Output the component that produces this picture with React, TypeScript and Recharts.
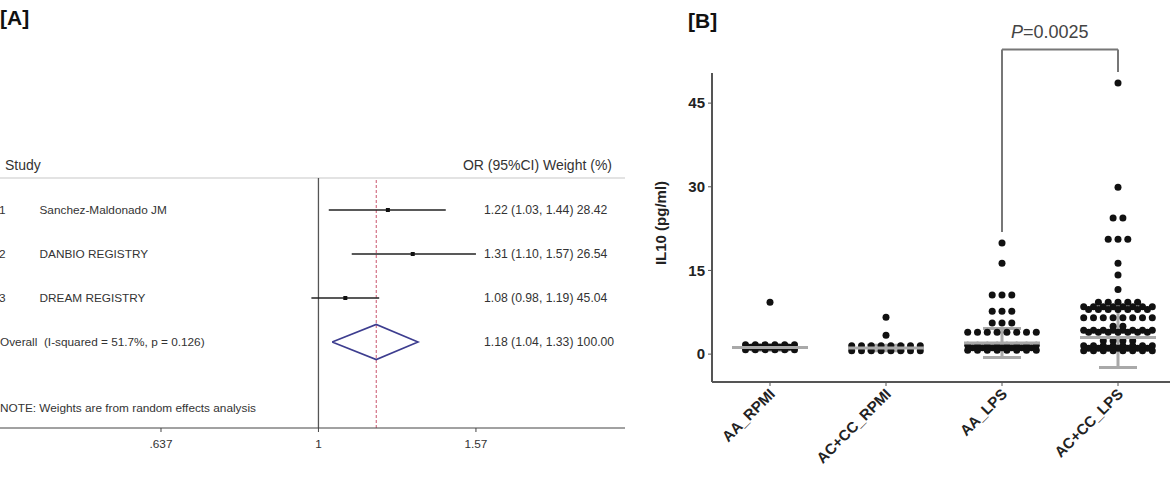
import { ErrorBar, ReferenceLine, Scatter, ScatterChart, XAxis, YAxis } from "recharts"

// [A] meta-analysis of the three cohorts
const studies = ["Sanchez-Maldonado JM", "DANBIO REGISTRY", "DREAM REGISTRY"]
const studyOR = [1.22, 1.31, 1.08]
const studyLow = [1.03, 1.1, 0.98]
const studyHigh = [1.44, 1.57, 1.19]
const studyWeight = [28.42, 26.54, 45.04]
const overallOR = 1.18
const overallLow = 1.04
const overallHigh = 1.33
const overallWeight = 100
const iSquared = 51.7
const heteroP = 0.126
const orTicks = [0.637, 1, 1.57]

// [B] IL10 per genotype / stimulus
const groups = ["AA_RPMI", "AC+CC_RPMI", "AA_LPS", "AC+CC_LPS"]
const aaRpmi = [9.3, 1.7, 1.7, 1.7, 1.7, 1.7, 1.7, 1.25, 1.25, 1.25, 1.25, 1.25, 0.8, 0.8, 0.8, 0.8, 0.8, 0.8]
const accRpmi = [6.6, 3.4, 1.5, 1.5, 1.5, 1.5, 1.5, 1.5, 1.5, 1.5, 0.6, 0.6, 0.6, 0.6, 0.6, 0.6, 0.6, 0.6]
const aaLps = [
  19.9, 16.3, 10.6, 10.6, 10.6, 7.7, 7.7, 7.7, 5.6, 5.6, 5.6,
  3.9, 3.9, 3.9, 3.9, 3.9, 3.9, 3.9, 3.9,
  1.6, 1.6, 1.6, 1.6, 1.6, 1.6, 1.6, 1.6,
  1.15, 1.15, 1.15, 1.15, 1.15, 1.15, 1.15,
  0.7, 0.7, 0.7, 0.7, 0.7, 0.7, 0.7, 0.7,
]
const accLps = [
  48.6, 29.9, 24.4, 24.4, 20.6, 20.6, 20.6, 16.3, 14.2, 11.6,
  9.3, 9.3, 9.3, 9.3, 9.3,
  8.5, 8.5, 8.5, 8.5, 8.5, 8.5, 8.5, 8.5,
  8.0, 8.0, 8.0, 8.0, 8.0, 8.0, 8.0,
  6.5, 6.5, 6.5, 6.5, 6.5, 6.5, 6.5, 6.5,
  5.0, 5.0,
  4.3, 4.3, 4.3, 4.3, 4.3, 4.3, 4.3, 4.3,
  3.9, 3.9, 3.9, 3.9, 3.9, 3.9, 3.9,
  2.4, 2.4, 2.4, 2.4,
  1.5, 1.5, 1.5, 1.5, 1.5, 1.5, 1.5, 1.5,
  1.05, 1.05, 1.05, 1.05, 1.05, 1.05, 1.05,
  0.6, 0.6, 0.6, 0.6, 0.6, 0.6, 0.6, 0.6,
]
const groupValues = [aaRpmi, accRpmi, aaLps, accLps]
const groupMean = [1.2, 1.1, 2.0, 3.0]
const groupSD = [0.5, 0.5, 2.6, 5.4]
const il10Ticks = [0, 15, 30, 45]
const pText = "0.0025"

const FONT = "'Liberation Sans', Arial, sans-serif"
const TEXT = "#333"
const GREY = "#a9a9a9"

// forest plot rows: 1..3 studies, 4 = pooled, 5.5 = footnote
const forestData = studies.map((_, i) => ({
  x: studyOR[i],
  y: i + 1,
  err: [studyOR[i] - studyLow[i], studyHigh[i] - studyOR[i]],
}))
const diamond = [
  { x: overallLow, y: 4 },
  { x: overallOR, y: 3.6 },
  { x: overallHigh, y: 4 },
  { x: overallOR, y: 4.4 },
  { x: overallLow, y: 4 },
]
const labelRows = [1, 2, 3, 4, 5.5].map((k) => ({ x: 1, y: k }))

const fmt = (or: number, lo: number, hi: number, w: number) =>
  `${or.toFixed(2)} (${lo.toFixed(2)}, ${hi.toFixed(2)}) ${w.toFixed(2)}`

function RowLabel({ y, k }: { y: number; k: number }) {
  const common = { fontSize: 11.8, fill: TEXT, dy: "0.35em", fontFamily: FONT }
  if (k <= 3) {
    return (
      <g>
        <text x={-1} y={y} {...common}>{k}</text>
        <text x={39.5} y={y} {...common}>{studies[k - 1]}</text>
        <text x={484} y={y} {...common} fontSize={12.2}>
          {fmt(studyOR[k - 1], studyLow[k - 1], studyHigh[k - 1], studyWeight[k - 1])}
        </text>
      </g>
    )
  }
  if (k === 4) {
    return (
      <g>
        <text x={0} y={y} {...common} style={{ whiteSpace: "pre" }}>
          {`Overall  (I-squared = ${iSquared}%, p = ${heteroP})`}
        </text>
        <text x={484} y={y} {...common} fontSize={12.2}>
          {fmt(overallOR, overallLow, overallHigh, overallWeight)}
        </text>
      </g>
    )
  }
  return <text x={0} y={y} {...common}>NOTE: Weights are from random effects analysis</text>
}

// dot-plot layout: equal values sit in one row, filled from the centre out
const STEP = 9.8 / 116
function swarm(values: number[], g: number) {
  const counts = new Map<number, number>()
  values.forEach((v) => counts.set(v, (counts.get(v) || 0) + 1))
  const pts: { x: number; y: number }[] = []
  counts.forEach((n, v) => {
    for (let i = 0; i < n; i++) {
      let slot
      if (n % 2 === 1) slot = i === 0 ? 0 : Math.ceil(i / 2) * (i % 2 ? 1 : -1)
      else slot = (Math.floor(i / 2) + 0.5) * (i % 2 === 0 ? 1 : -1)
      pts.push({ x: g + slot * STEP, y: v })
    }
  })
  return pts
}
const dots = groupValues.flatMap((vals, g) => swarm(vals, g))
const summary = groups.map((_, g) => ({ x: g, y: groupMean[g], sd: groupSD[g] }))

const leftTop = Math.max(...aaLps) + 2
const rightTop = Math.max(...accLps) + 2
const bracketY = Math.max(...accLps) + 6

function GroupTick({ x, y, payload }: any) {
  const ax = x + 6
  const ay = y + 7
  return (
    <text x={ax} y={ay} transform={`rotate(-45, ${ax}, ${ay})`} textAnchor="end"
      fontSize={15} fontWeight="bold" fill="#222" fontFamily={FONT}>
      {groups[payload.value]}
    </text>
  )
}

function PLabel({ viewBox }: any) {
  return (
    <text x={viewBox.x + 9} y={viewBox.y - 12} fontSize={18} fill="#444" fontFamily={FONT}>
      <tspan fontStyle="italic">P</tspan>={pText}
    </text>
  )
}

export default function App() {
  return (
    <div style={{ position: "absolute", left: 0, top: 0, width: 1170, height: 480, overflow: "hidden", background: "#fff", fontFamily: FONT }}>
      <div style={{ position: "absolute", left: 0, top: 0 }}>
        <ScatterChart width={640} height={480} margin={{ top: 178, right: 15, bottom: 22, left: 0 }}>
          <XAxis type="number" dataKey="x" scale="log" domain={[0.4017, 2.406]} allowDataOverflow
            ticks={orTicks} tickFormatter={(v: number) => (v === 0.637 ? ".637" : String(v))}
            height={30} tickSize={4} tickMargin={8}
            axisLine={{ stroke: "#444" }} tickLine={{ stroke: "#444" }}
            tick={{ fontSize: 11.8, fill: TEXT, fontFamily: FONT }} />
          <YAxis type="number" dataKey="y" reversed domain={[0.2727, 5.9545]} allowDataOverflow hide />
          <ReferenceLine y={0.2727} stroke="#c8c8c8" strokeWidth={1.2} />
          <ReferenceLine x={1} stroke="#555" strokeWidth={1.3} />
          <ReferenceLine x={overallOR} stroke="#c9536d" strokeWidth={1} strokeDasharray="3 2" />
          <Scatter data={labelRows} isAnimationActive={false}
            shape={(p: any) => <RowLabel y={p.cy} k={p.payload.y} />} />
          <Scatter data={forestData} isAnimationActive={false}
            shape={(p: any) => <rect x={p.cx - 2} y={p.cy - 2} width={4} height={4} fill="#111" />}>
            <ErrorBar dataKey="err" direction="x" width={0} stroke="#222" strokeWidth={1.5} />
          </Scatter>
          <Scatter data={diamond} isAnimationActive={false} line={{ stroke: "#3d3d8f", strokeWidth: 1.6 }}
            shape={() => <g />} />
        </ScatterChart>
      </div>

      <div style={{ position: "absolute", left: 640, top: 0 }}>
        <ScatterChart width={540} height={480} margin={{ top: 73, right: 4, bottom: 0, left: 22 }}>
          <XAxis type="number" dataKey="x" domain={[-0.5, 3.5]} ticks={[0, 1, 2, 3]} interval={0}
            height={98} tickSize={4} axisLine={{ stroke: "#555", strokeWidth: 2 }} tickLine={{ stroke: "#555" }}
            tick={<GroupTick />} />
          <YAxis type="number" dataKey="y" domain={[-5, 50.4]} ticks={il10Ticks} width={50} tickSize={4} tickMargin={3}
            axisLine={{ stroke: "#555", strokeWidth: 2 }} tickLine={{ stroke: "#555" }}
            tick={{ fontSize: 15, fontWeight: "bold", fill: "#222", fontFamily: FONT }} />
          <Scatter data={dots} isAnimationActive={false}
            shape={(p: any) => <circle cx={p.cx} cy={p.cy} r={3.5} fill="#111" />} />
          <Scatter data={summary} isAnimationActive={false}
            shape={(p: any) => <line x1={p.cx - 38} x2={p.cx + 38} y1={p.cy} y2={p.cy} stroke={GREY} strokeWidth={3} />}>
            <ErrorBar dataKey="sd" direction="y" width={19} stroke={GREY} strokeWidth={3} />
          </Scatter>
          <ReferenceLine segment={[{ x: 2, y: leftTop }, { x: 2, y: bracketY }]} ifOverflow="visible" stroke="#777" strokeWidth={2} />
          <ReferenceLine segment={[{ x: 2, y: bracketY }, { x: 3, y: bracketY }]} ifOverflow="visible" stroke="#777" strokeWidth={2}
            label={<PLabel />} />
          <ReferenceLine segment={[{ x: 3, y: bracketY }, { x: 3, y: rightTop }]} ifOverflow="visible" stroke="#777" strokeWidth={2} />
        </ScatterChart>
      </div>

      <svg width={1170} height={480} style={{ position: "absolute", left: 0, top: 0, pointerEvents: "none" }} fontFamily={FONT}>
        <text x={0} y={25} fontSize={21} fontWeight="bold" fill="#111">[A]</text>
        <text x={5} y={170} fontSize={14} fill={TEXT}>Study</text>
        <text x={612} y={170} fontSize={14} fill={TEXT} textAnchor="end">OR (95%CI) Weight (%)</text>
        <text x={688} y={28} fontSize={21} fontWeight="bold" fill="#111">[B]</text>
        <text transform="translate(661,223) rotate(-90)" textAnchor="middle" dy="0.35em" fontSize={15} fontWeight="bold" fill="#222">
          IL10 (pg/ml)
        </text>
      </svg>
    </div>
  )
}
